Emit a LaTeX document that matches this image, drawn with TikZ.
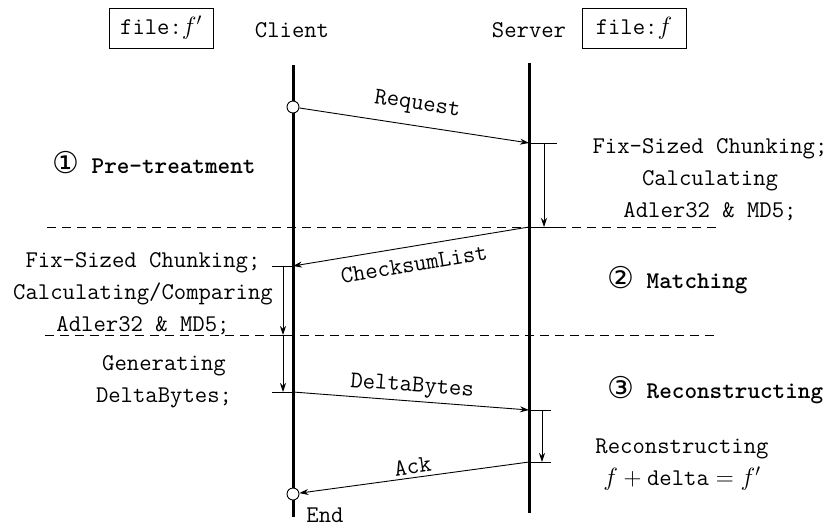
\documentclass[tikz,border=0pt]{standalone}
\usepackage{fontspec}
\usepackage{tikz}
\usetikzlibrary{arrows.meta}
\newfontfamily\circfont{DejaVu Sans}

\begin{document}
\begin{tikzpicture}[x=1pt,y=-1pt,>={Stealth[length=9pt,width=6pt]},
                    font=\fontsize{24}{32}\selectfont\ttfamily,
                    msg/.style={->,line width=0.9pt},
                    tick/.style={line width=0.9pt},
                    life/.style={line width=3pt},
                    sep/.style={dash pattern=on 9pt off 6pt,line width=0.9pt},
                    filebox/.style={draw,line width=0.9pt,minimum width=104pt,minimum height=40pt},
                    dot/.style={circle,draw,line width=0.9pt,fill=white,minimum size=12pt,inner sep=0pt},
                    txt/.style={align=center,inner sep=0pt},
                    phase/.style={anchor=west,inner sep=0pt,font=\fontsize{24}{32}\selectfont\ttfamily\bfseries}]
  \useasboundingbox (0,0) rectangle (837,531);
%  lifelines
  \coordinate (cTop) at (293,65);
  \coordinate (cBot) at (293,517);
  \coordinate (sTop) at (529,63);
  \coordinate (sBot) at (529,513);
  \draw[life] (cTop) -- (cBot);
  \draw[life] (sTop) -- (sBot);

  \node[filebox] (fileC)  at (161,28) {file:$f'$};
  \node          (client) at (292,30) {Client};
  \node          (server) at (529,30) {Server};
  \node[filebox] (fileS)  at (634,28) {file:$f$};

  \coordinate (c2) at (293,266);
  \coordinate (c3) at (293,335);
  \coordinate (c4) at (293,392);
  \coordinate (s1) at (529,143);
  \coordinate (s2) at (529,227);
  \coordinate (s3) at (529,410);
  \coordinate (s4) at (529,462);
  \node[dot] (start) at (293,107) {};
  \node[dot] (end)   at (293,494) {};

  % phase borders
  \coordinate (sepAL) at (47,227);
  \coordinate (sepAR) at (716,227);
  \coordinate (sepBL) at (45,335);
  \coordinate (sepBR) at (716,335);
  \draw[sep] (sepAL) -- (sepAR);
  \draw[sep] (sepBL) -- (sepBR);

  % processing on the server
  \draw[tick] (s1) -- ++(28,0);
  \draw[tick] (s2) -- ++(28,0);
  \draw[msg] ([xshift=15pt]s1) -- ([xshift=15pt]s2);
  \draw[tick] (s3) -- ++(22,0);
  \draw[tick] (s4) -- ++(22,0);
  \draw[msg] ([xshift=13pt]s3) -- ([xshift=13pt]s4);

  % processing on the client
  \draw[tick] (c2) -- ++(-21,0);
  \draw[tick] (c3) -- ++(-21,0);
  \draw[tick] (c4) -- ++(-21,0);
  \draw[msg] ([xshift=-10pt]c2) -- ([xshift=-10pt]c3);
  \draw[msg] ([xshift=-10pt]c3) -- ([xshift=-10pt]c4);

  \path (start) edge[msg] node[sloped,above=7pt] {Request} (s1)
        (s2)    edge[msg] node[sloped,below=7pt] {ChecksumList} (c2)
        (c4)    edge[msg] node[sloped,above=0pt] {DeltaBytes} (s3)
        (s4)    edge[msg] node[sloped,above=0pt] {Ack} (end);

  \node[txt] (srvPre)  at (710,180) {Fix-Sized Chunking;\\Calculating\\Adler32 \& MD5;};
  \node[txt] (cliMatch) at (143,294) {Fix-Sized Chunking;\\Calculating/Comparing\\Adler32 \& MD5;};
  \node[txt] (cliGen)  at (164,382) {Generating\\DeltaBytes;};
  \node[txt] (srvRec)  at (682,465) {Reconstructing\\$f+{}$delta${}=f'$};
  \node (endLbl) at (325,515) {End};

  \node[phase] (phase1) at (52,163)  {{\circfont\mdseries\fontsize{30}{32}\selectfont ①} Pre-treatment};
  \node[phase] (phase2) at (607,280) {{\circfont\mdseries\fontsize{30}{32}\selectfont ②} Matching};
  \node[phase] (phase3) at (607,390) {{\circfont\mdseries\fontsize{30}{32}\selectfont ③} Reconstructing};

\end{tikzpicture}
\end{document}
